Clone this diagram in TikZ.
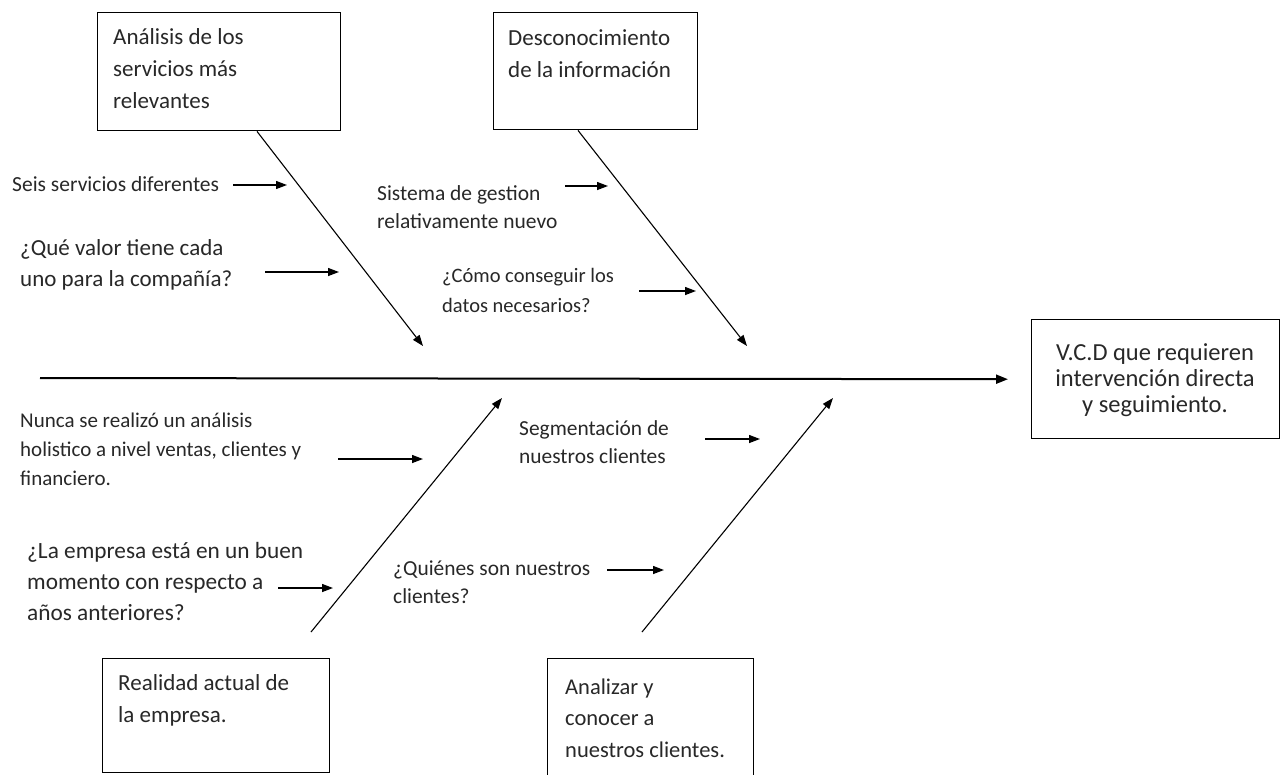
\documentclass[tikz,border=0pt]{standalone}
\usepackage{fontspec}
\setmainfont{Carlito}
\usetikzlibrary{arrows.meta,calc}
\newcommand\setfs[2]{\fontsize{#1}{#2}\selectfont}
\definecolor{ink}{RGB}{40,40,40}
\tikzset{
  box/.style={draw=black, line width=1.4pt, rectangle, inner sep=0pt, anchor=north west},
  txt/.style={text=ink, inner sep=0pt, anchor=base west, align=left},
  bone/.style={draw=black, line width=1.1pt, -{Triangle[length=11pt,width=8pt]}},
  cue/.style={draw=black, line width=1.3pt, -{Triangle[length=11pt,width=8pt]}},
  spine/.style={draw=black, line width=2pt, -{Triangle[length=12pt,width=9pt]}}
}
\begin{document}
\begin{tikzpicture}[x=1pt,y=-1pt]
\useasboundingbox (0,0) rectangle (1285,774);
\fill[white] (0,0) rectangle (1285,774);
% cause boxes
\node[box, minimum width=243pt, minimum height=118pt] (c1) at (97,12) {};
\node[box, minimum width=204pt, minimum height=117pt] (c2) at (493,12) {};
\node[box, minimum width=227pt, minimum height=114pt] (c3) at (102,658) {};
\node[box, minimum width=206pt, minimum height=130pt] (c4) at (547,658) {};
\node[box, minimum width=248pt, minimum height=119pt] (c5) at (1031,319) {};
% box texts (anchor = baseline of last line)
\node[txt, font=\setfs{23}{32}] (t1) at (113,108) {Análisis de los\\servicios más\\relevantes};
\node[txt, font=\setfs{23}{32}] (t2) at (508,77) {Desconocimiento\\de la información};
\node[txt, font=\setfs{23}{32}] (t3) at (118,722) {Realidad actual de\\la empresa.};
\node[txt, font=\setfs{22.5}{31.5}] (t4) at (565,757) {Analizar y\\conocer a\\nuestros clientes.};
\node[txt, anchor=base, align=center, font=\setfs{24.5}{26}] (t5) at (1155,412) {V.C.D que requieren\\intervención directa\\y seguimiento.};
% spine
\coordinate (s0) at (40,378);
\draw[spine] (s0) -- ($(c5.west)+(-23,0)$);
% bones
\coordinate (h1) at (423,346);
\coordinate (h2) at (747,346);
\coordinate (h3) at (502,398);
\coordinate (h4) at (833,398);
\coordinate (b3) at (311,632);
\coordinate (b4) at (642,632);
\draw[bone] ($(c1.south west)+(160,0)$) -- (h1);
\draw[bone] ($(c2.south west)+(85,0)$) -- (h2);
\draw[bone] (b3) -- (h3);
\draw[bone] (b4) -- (h4);
% sub-cause texts (anchor = baseline of last line)
\node[txt, font=\setfs{21.5}{30}] (a1) at (12,191) {Seis servicios diferentes};
\node[txt, font=\setfs{23}{31}] (a2) at (20,286) {¿Qué valor tiene cada\\uno para la compañía?};
\node[txt, font=\setfs{21.5}{28}] (a3) at (377,228) {Sistema de gestion\\relativamente nuevo};
\node[txt, font=\setfs{20.5}{30}] (a4) at (442,312) {¿Cómo conseguir los\\datos necesarios?};
\node[txt, font=\setfs{21}{29}] (a5) at (20,485) {Nunca se realizó un análisis\\holistico a nivel ventas, clientes y\\financiero.};
\node[txt, font=\setfs{23.3}{31}] (a6) at (27,620) {¿La empresa está en un buen\\momento con respecto a\\años anteriores?};
\node[txt, font=\setfs{21.4}{28}] (a7) at (519,463) {Segmentación de\\nuestros clientes};
\node[txt, font=\setfs{21.4}{28}] (a8) at (393,603) {¿Quiénes son nuestros\\clientes?};
% sub-cause arrows
\coordinate (p1) at (233,185); \coordinate (q1) at (287,185);
\coordinate (p2) at (265,272); \coordinate (q2) at (339,272);
\coordinate (p3) at (565,186); \coordinate (q3) at (608,186);
\coordinate (p4) at (639,291); \coordinate (q4) at (696,291);
\coordinate (p5) at (338,459); \coordinate (q5) at (423,459);
\coordinate (p6) at (278,588); \coordinate (q6) at (333,588);
\coordinate (p7) at (705,439); \coordinate (q7) at (760,439);
\coordinate (p8) at (607,570); \coordinate (q8) at (664,570);
\foreach \i in {1,...,8} {\draw[cue] (p\i) -- (q\i);}
\end{tikzpicture}
\end{document}
